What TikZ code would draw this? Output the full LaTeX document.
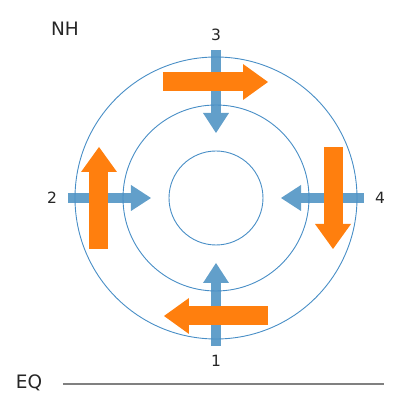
\documentclass[tikz,border=0pt]{standalone}
\usepackage{fontspec}
\setmainfont{DejaVu Sans}
\usetikzlibrary{arrows.meta}
\definecolor{flowblue}{RGB}{98,159,202}
\definecolor{ringblue}{RGB}{72,142,198}
\definecolor{floworange}{RGB}{255,127,14}
\definecolor{eqgray}{RGB}{128,128,128}

\begin{document}
\begin{tikzpicture}[x=1pt, y=1pt,
  ring/.style={draw=ringblue, line width=0.9pt},
  inflow/.style={draw=flowblue, line width=10pt,
    -{Triangle[length=20pt, width=26pt, line width=0pt]}},
  spin/.style={draw=floworange, line width=19pt,
    -{Triangle[length=25pt, width=36pt, line width=0pt]}},
  lbl/.style={font=\fontsize{15.5}{18}\selectfont, text=black!85},
  tag/.style={font=\fontsize{18.5}{22}\selectfont, text=black!85}]

  \useasboundingbox (-216,-213) rectangle (199,198);

  % Labels
  \node[tag] (nh) at (-151, 169) {NH};
  \node[tag] (eq) at (-187, -185) {EQ};
  \node[lbl] (p1) at (0, -163) {1};
  \node[lbl] (p2) at (-164, 0) {2};
  \node[lbl] (p3) at (0, 163) {3};
  \node[lbl] (p4) at (164, 0) {4};

  % Equator line
  \coordinate (eqa) at (-153, -186);
  \coordinate (eqb) at (168, -186);
  \draw[eqgray, line width=1.5pt] (eqa) -- (eqb);

  % Inflow arrows (blue), from outside towards the centre
  \foreach \a/\n in {270/s, 180/w, 90/n, 0/e} {
    \coordinate (in\n) at (\a:148);
    \coordinate (tip\n) at (\a:65);
    \draw[inflow] (in\n) -- (tip\n);
  }

  % Rings
  \draw[ring] (0,0) circle (141);
  \draw[ring] (0,0) circle (93);
  \draw[ring] (0,0) circle (47);

  % Circulation arrows (orange), clockwise
  \coordinate (ta) at (-53, 116);  \coordinate (tb) at (52, 116);
  \coordinate (ra) at (117, 51);   \coordinate (rb) at (117, -51);
  \coordinate (ba) at (52, -118);  \coordinate (bb) at (-52, -118);
  \coordinate (la) at (-117, -51); \coordinate (lb) at (-117, 51);
  \draw[spin] (ta) -- (tb);
  \draw[spin] (ra) -- (rb);
  \draw[spin] (ba) -- (bb);
  \draw[spin] (la) -- (lb);

\end{tikzpicture}
\end{document}
